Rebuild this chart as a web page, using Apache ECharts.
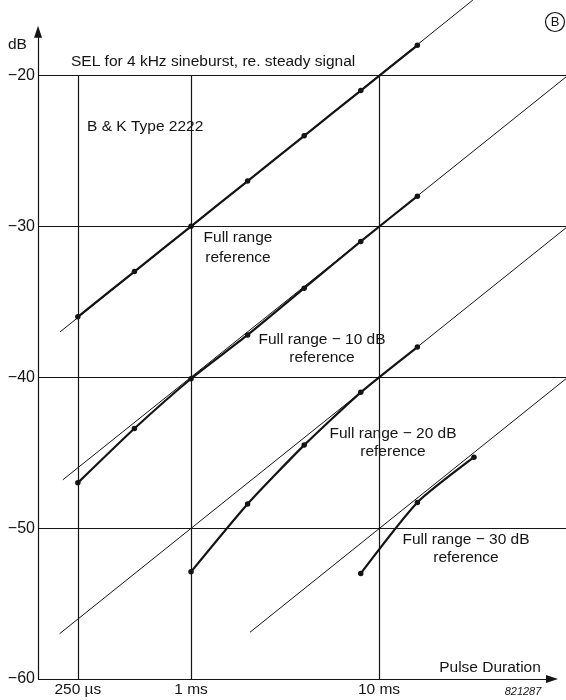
<!DOCTYPE html>
<html>
<head>
<meta charset="utf-8">
<title>SEL for 4 kHz sineburst</title>
<script src="https://cdn.jsdelivr.net/npm/echarts@6/dist/echarts.min.js"></script>
<style>
  html, body { margin: 0; padding: 0; background: #fff; }
  #chart { width: 566px; height: 700px; }
</style>
</head>
<body>
<div id="chart"></div>
<script>
// Pulse durations in milliseconds
const durations = [0.25, 0.5, 1, 2, 4, 8, 16];
const fullRange = [-36.0, -33.0, -30.0, -27.0, -24.0, -21.0, -18.0];
const fullRange10 = [-47.0, -43.4, -40.1, -37.2, -34.1, -31.0, -28.0];
const durations20 = [1, 2, 4, 8, 16];
const fullRange20 = [-52.9, -48.4, -44.5, -41.0, -38.0];
const durations30 = [8, 16, 32];
const fullRange30 = [-53.0, -48.3, -45.3];

// Ideal reference lines (10 dB per decade): [start ms, start dB, end ms, end dB]
const refLine0 = [0.201, -37.0, 31.6, -15.0];
const refLine10 = [0.208, -46.8, 98.8, -20.1];
const refLine20 = [0.2, -57.0, 98.8, -30.1];
const refLine30 = [2.06, -56.9, 98.8, -40.1];

// Axes
const xMin = 0.1535, xMax = 98.8;
const yMin = -60, yMax = -15;
const xGridValues = [0.25, 1, 10];
const xTickLabels = ['250 \u00b5s', '1 ms', '10 ms'];
const yGridTop = -20;
const xArrowEnd = 83.2;
const yArrowEnd = -17.1;

const INK = '#141414';
const FONT = '"Liberation Sans", Arial, sans-serif';

function pairs(xs, ys) { return xs.map((x, i) => [x, ys[i]]); }
function seg(r) { return [[r[0], r[1]], [r[2], r[3]]]; }

const chart = echarts.init(document.getElementById('chart'), null, { renderer: 'canvas' });

const gridLines = xGridValues.map((v, i) => [
  { coord: [v, yMin], label: { show: true, position: 'start', formatter: xTickLabels[i], distance: 3,
      color: INK, fontSize: 15.5, fontFamily: FONT } },
  { coord: [v, yGridTop] }
]);

// Axis lines with arrow heads
const axisLines = [
  [ { coord: [xMin * 1.0005, yMin] }, { coord: [xMin * 1.0005, yArrowEnd], symbol: 'triangle' } ],
  [ { coord: [xMin * 1.0005, yMin] }, { coord: [xArrowEnd, yMin], symbol: 'triangle' } ]
];

function refSeries(r, extra) {
  return Object.assign({
    type: 'line', data: seg(r), showSymbol: false, symbol: 'none', clip: false,
    lineStyle: { color: INK, width: 1 }, silent: true, z: 3
  }, extra || {});
}

function dataSeries(xs, ys) {
  return {
    type: 'line', data: pairs(xs, ys), symbol: 'circle', symbolSize: 5.5, clip: false,
    smooth: 0.2,
    itemStyle: { color: INK }, lineStyle: { color: INK, width: 2.2 }, silent: true, z: 5
  };
}

const textStyle = (size) => size + 'px ' + FONT;

const option = {
  animation: false,
  backgroundColor: '#fff',
  grid: { left: 38, right: 0, top: 0, bottom: 21, containLabel: false },
  xAxis: {
    type: 'log', logBase: 10, min: xMin, max: xMax,
    axisLine: { show: false }, axisTick: { show: false },
    axisLabel: { show: false }, splitLine: { show: false }
  },
  yAxis: {
    type: 'value', min: yMin, max: yMax, interval: 10,
    axisLine: { show: false }, axisTick: { show: false },
    axisLabel: {
      color: INK, fontSize: 16, fontFamily: FONT, margin: 3, showMaxLabel: false,
      formatter: v => (v < 0 ? '\u2212' + Math.abs(v) : String(v))
    },
    splitLine: { show: true, showMinLine: false, showMaxLine: false, lineStyle: { color: INK, width: 1 } }
  },
  series: [
    refSeries(refLine0, {
      markLine: {
        silent: true, symbol: ['none', 'none'], symbolSize: [8, 12],
        lineStyle: { color: INK, width: 1.2, type: 'solid' },
        label: { show: false },
        data: gridLines.concat(axisLines)
      }
    }),
    refSeries(refLine10),
    refSeries(refLine20),
    refSeries(refLine30),
    dataSeries(durations, fullRange),
    dataSeries(durations, fullRange10),
    dataSeries(durations20, fullRange20),
    dataSeries(durations30, fullRange30)
  ],
  graphic: [
    { type: 'text', left: 8, top: 37, style: { text: 'dB', font: textStyle(15.5), fill: INK } },
    { type: 'text', left: 71, top: 54, style: { text: 'SEL for 4 kHz sineburst, re. steady signal', font: textStyle(15.5), fill: INK } },
    { type: 'text', left: 87, top: 119, style: { text: 'B & K Type 2222', font: textStyle(15.5), fill: INK } },
    { type: 'group', left: 543, top: 10, children: [
        { type: 'circle', shape: { cx: 10, cy: 10, r: 9.5 }, style: { fill: 'none', stroke: INK, lineWidth: 1.2 } },
        { type: 'text', x: 10, y: 10.5, style: { text: 'B', font: textStyle(13), fill: INK, align: 'center', verticalAlign: 'middle' } }
    ] },
    { type: 'text', x: 238, y: 248, style: { text: 'Full range\nreference', font: textStyle(15.5), fill: INK, align: 'center', verticalAlign: 'middle', lineHeight: 20 } },
    { type: 'text', x: 322, y: 349, style: { text: 'Full range \u2212 10 dB\nreference', font: textStyle(15.5), fill: INK, align: 'center', verticalAlign: 'middle', lineHeight: 18 } },
    { type: 'text', x: 393, y: 443, style: { text: 'Full range \u2212 20 dB\nreference', font: textStyle(15.5), fill: INK, align: 'center', verticalAlign: 'middle', lineHeight: 18 } },
    { type: 'text', x: 466, y: 549, style: { text: 'Full range \u2212 30 dB\nreference', font: textStyle(15.5), fill: INK, align: 'center', verticalAlign: 'middle', lineHeight: 18 } },
    { type: 'text', x: 490, y: 668, style: { text: 'Pulse Duration', font: textStyle(15.5), fill: INK, align: 'center', verticalAlign: 'middle' } },
    { type: 'text', x: 523, y: 692, style: { text: '821287', font: 'italic ' + textStyle(11), fill: INK, align: 'center', verticalAlign: 'middle' } }
  ]
};

chart.setOption(option);
</script>
</body>
</html>
